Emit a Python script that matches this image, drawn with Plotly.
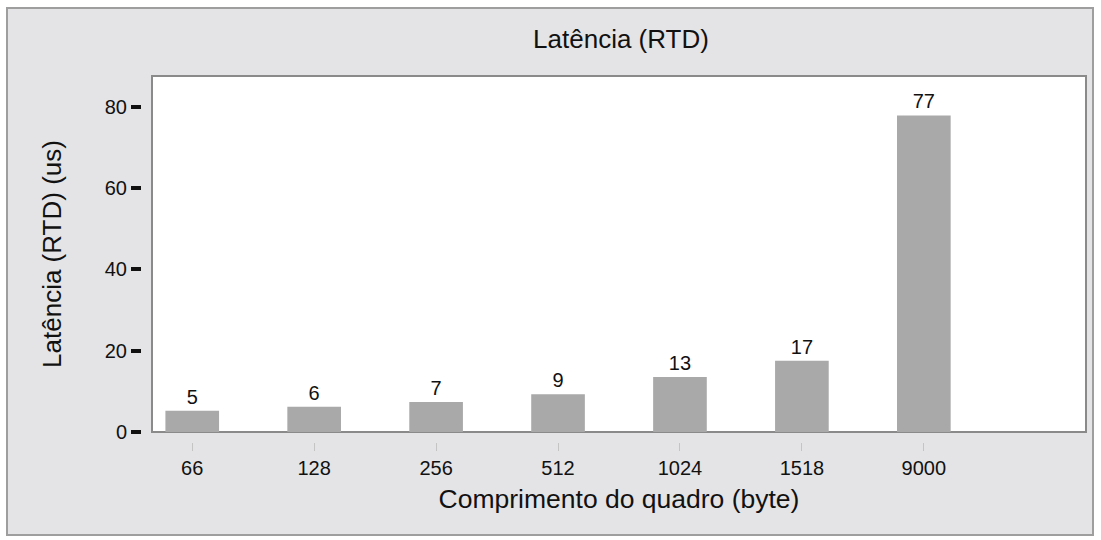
import plotly.graph_objects as go

frame_sizes = ["66", "128", "256", "512", "1024", "1518", "9000"]
latency_us = [5.2, 6.2, 7.4, 9.3, 13.5, 17.5, 77.8]
value_labels = ["5", "6", "7", "9", "13", "17", "77"]
y_ticks = [0, 20, 40, 60, 80]

FONT = "Arial, Liberation Sans, sans-serif"
W, H = 1101, 540
ML, MR, MT, MB = 141, 15, 76, 98
PW, PH = W - ML - MR, H - MT - MB

def px_x(p):
    return (p - ML) / PW

def px_y(p):
    return (H - MB - p) / PH

fig = go.Figure()
fig.add_trace(go.Bar(
    x=frame_sizes, y=latency_us, text=value_labels,
    textposition="outside", cliponaxis=False,
    textfont=dict(family=FONT, size=20, color="#111111"),
    marker=dict(color="#a9a9a9", line=dict(width=0)),
    width=0.44, hoverinfo="x+y",
))

shapes = [
    dict(type="rect", xref="paper", yref="paper", layer="below",
         x0=px_x(7), x1=px_x(1093), y0=px_y(535), y1=px_y(8),
         fillcolor="#e4e4e6", line=dict(color="#9e9e9e", width=2)),
    dict(type="rect", xref="paper", yref="paper", layer="below",
         x0=px_x(152), x1=px_x(1086), y0=px_y(432), y1=px_y(76),
         fillcolor="#ffffff", line=dict(color="#8a8a8a", width=2)),
]

fig.update_layout(
    width=W, height=H,
    margin=dict(l=ML, r=MR, t=MT, b=MB, pad=0),
    paper_bgcolor="#ffffff", plot_bgcolor="#ffffff",
    showlegend=False,
    font=dict(family=FONT, color="#111111"),
    title=dict(text="Latência (RTD)", font=dict(family=FONT, size=26, color="#111111"),
               x=px_x(621), xref="paper", xanchor="center",
               y=1 - 39 / H, yref="container", yanchor="middle"),
    shapes=shapes,
    xaxis=dict(
        type="category", range=[-0.33, 7.33],
        domain=[px_x(152), 1], anchor="free", position=0,
        showline=False, showgrid=False, zeroline=False,
        ticks="outside", ticklen=8, tickwidth=1, tickcolor="#c4c4c4",
        tickfont=dict(family=FONT, size=20, color="#111111"),
        title=dict(text="Comprimento do quadro (byte)", standoff=11,
                   font=dict(family=FONT, size=26.5, color="#111111")),
    ),
    yaxis=dict(
        range=[0, 87.5], tickvals=y_ticks,
        domain=[px_y(432), 1], anchor="free", position=0,
        showline=False, showgrid=False, zeroline=False,
        ticks="outside", ticklen=10, tickwidth=4, tickcolor="#111111",
        tickfont=dict(family=FONT, size=20, color="#111111"),
        title=dict(text="Latência (RTD) (us)", standoff=34,
                   font=dict(family=FONT, size=26, color="#111111")),
    ),
)

fig.write_html("out.html", config={"displayModeBar": False},
               post_script="document.body.style.margin='0';")
